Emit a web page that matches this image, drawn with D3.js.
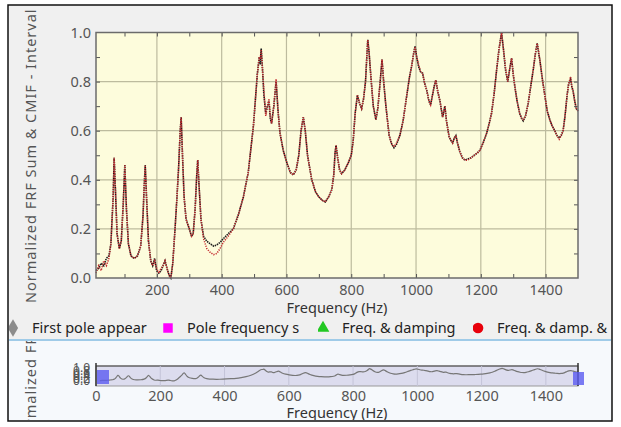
<!DOCTYPE html>
<html>
<head>
<meta charset="utf-8">
<script src="https://cdn.jsdelivr.net/npm/d3@7"></script>
<style>
  body { margin: 0; background: #fff; }
  svg { display: block; font-family: "Noto Sans", sans-serif; }
</style>
</head>
<body>
<script>
// frequency points (Hz)
let freq = [12,20,28,36,44,52,58,62,65,68,72,77,84,90,96,101,106,112,120,130,140,150,157,161,164,168,174,181,187,193,199,206,213,219,225,231,238,243,249,256,262,267,272,275,279,284,290,300,307,312,318,323,326,330,336,344,354,364,375,385,395,405,420,436,452,467,482,498,510,516,519,522,526,530,536,541,546,550,554,561,568,574,580,590,601,612,621,630,638,645,652,658,665,678,690,700,712,720,730,740,746,750,753,758,764,770,780,791,800,806,812,819,826,832,838,844,848,851,855,860,868,876,882,888,895,900,907,917,925,932,940,950,960,971,980,986,992,997,1002,1008,1014,1020,1027,1033,1040,1045,1050,1056,1061,1067,1074,1082,1086,1089,1094,1102,1108,1113,1118,1123,1128,1135,1143,1151,1160,1170,1180,1190,1197,1207,1218,1226,1233,1241,1249,1256,1264,1270,1276,1283,1289,1295,1300,1305,1312,1320,1326,1331,1338,1346,1354,1362,1368,1374,1378,1382,1390,1398,1405,1413,1420,1428,1435,1442,1448,1454,1460,1466,1471,1477,1481,1485,1490,1495,1500]

// normalized FRF sum (black)
let frfSum = [0.03,0.04,0.06,0.05,0.08,0.09,0.14,0.25,0.33,0.49,0.36,0.18,0.12,0.15,0.30,0.46,0.28,0.14,0.09,0.08,0.09,0.13,0.25,0.38,0.46,0.33,0.15,0.07,0.05,0.08,0.03,0.02,0.03,0.05,0.07,0.04,0.01,0.0,0.06,0.20,0.33,0.45,0.60,0.655,0.50,0.33,0.24,0.20,0.17,0.18,0.28,0.42,0.48,0.38,0.24,0.17,0.15,0.14,0.13,0.135,0.145,0.16,0.18,0.20,0.26,0.33,0.43,0.62,0.83,0.90,0.87,0.935,0.85,0.75,0.67,0.70,0.72,0.65,0.63,0.70,0.80,0.68,0.59,0.52,0.47,0.43,0.42,0.44,0.50,0.60,0.655,0.60,0.50,0.40,0.35,0.33,0.315,0.31,0.33,0.36,0.42,0.51,0.54,0.49,0.44,0.425,0.44,0.47,0.50,0.56,0.67,0.745,0.71,0.69,0.73,0.80,0.90,0.97,0.92,0.83,0.70,0.645,0.69,0.78,0.89,0.80,0.70,0.58,0.545,0.53,0.545,0.58,0.64,0.74,0.82,0.86,0.91,0.945,0.90,0.86,0.84,0.835,0.79,0.765,0.72,0.705,0.74,0.78,0.806,0.76,0.72,0.655,0.68,0.70,0.64,0.576,0.56,0.55,0.57,0.58,0.55,0.515,0.49,0.48,0.485,0.49,0.50,0.51,0.52,0.55,0.59,0.63,0.67,0.75,0.85,0.93,1.0,0.93,0.85,0.80,0.85,0.895,0.83,0.78,0.72,0.67,0.65,0.64,0.66,0.71,0.78,0.85,0.91,0.956,0.92,0.89,0.81,0.74,0.68,0.645,0.62,0.60,0.58,0.57,0.58,0.60,0.66,0.74,0.79,0.81,0.78,0.76,0.72,0.69,0.68]

// CMIF (red)
let cmif = [0.02,0.05,0.03,0.07,0.05,0.08,0.14,0.25,0.33,0.49,0.36,0.18,0.12,0.15,0.30,0.46,0.28,0.14,0.09,0.08,0.09,0.13,0.25,0.38,0.46,0.33,0.15,0.07,0.05,0.07,0.04,0.02,0.04,0.05,0.07,0.04,0.01,0.0,0.06,0.20,0.33,0.45,0.60,0.655,0.50,0.33,0.24,0.20,0.17,0.18,0.28,0.42,0.48,0.38,0.24,0.16,0.12,0.105,0.095,0.10,0.12,0.145,0.17,0.20,0.26,0.33,0.43,0.62,0.83,0.90,0.89,0.93,0.85,0.77,0.66,0.70,0.73,0.66,0.63,0.70,0.81,0.68,0.59,0.52,0.47,0.43,0.42,0.44,0.50,0.60,0.655,0.60,0.50,0.40,0.35,0.33,0.315,0.31,0.33,0.36,0.42,0.51,0.54,0.49,0.44,0.425,0.44,0.47,0.50,0.56,0.67,0.745,0.71,0.69,0.73,0.80,0.90,0.97,0.92,0.83,0.70,0.645,0.69,0.78,0.89,0.80,0.70,0.58,0.545,0.535,0.55,0.58,0.64,0.74,0.82,0.86,0.91,0.94,0.90,0.87,0.84,0.835,0.79,0.765,0.72,0.705,0.74,0.78,0.806,0.76,0.72,0.655,0.68,0.70,0.64,0.576,0.56,0.55,0.57,0.58,0.55,0.515,0.49,0.48,0.48,0.49,0.50,0.51,0.52,0.55,0.59,0.63,0.67,0.75,0.85,0.93,1.0,0.93,0.86,0.80,0.85,0.895,0.83,0.78,0.72,0.67,0.65,0.645,0.66,0.71,0.78,0.85,0.91,0.956,0.93,0.89,0.81,0.74,0.68,0.645,0.62,0.60,0.58,0.565,0.58,0.60,0.66,0.74,0.79,0.82,0.78,0.76,0.72,0.69,0.68]

let xTicks = [200,400,600,800,1000,1200,1400]
let yTicks = [0.0,0.2,0.4,0.6,0.8,1.0]
let ovXTicks = [0,200,400,600,800,1000,1200,1400]
let ovYTicks = [0.0,0.2,0.4,0.6,0.8,1.0]
let legendItems = ["First pole appear", "Pole frequency s", "Freq. & damping", "Freq. & damp. & mode shape"]
let legendColors = ["#8c8c8c", "#ff00ff", "#22c822", "#e8000b"]
let legendShapes = [d3.symbolDiamond, d3.symbolSquare, d3.symbolTriangle, d3.symbolCircle]

let svg = d3.select("body").append("svg")
  .attr("width", 621).attr("height", 427)

// outer frame
svg.append("rect").attr("x", 8).attr("y", 5).attr("width", 604).attr("height", 416)
  .attr("fill", "#f0f0f0").attr("stroke", "#111").attr("stroke-width", 1.5)

let defs = svg.append("defs")
defs.append("clipPath").attr("id", "frameClip").append("rect")
  .attr("x", 9).attr("y", 6).attr("width", 602).attr("height", 414)
defs.append("clipPath").attr("id", "panelClip").append("rect")
  .attr("x", 9).attr("y", 341).attr("width", 602).attr("height", 79)

// scales of the main plot
let x = d3.scaleLinear().domain([12, 1500]).range([96, 578])
let y = d3.scaleLinear().domain([0, 1]).range([278, 32.5])

let main = svg.append("g").attr("clip-path", "url(#frameClip)")

main.append("rect").attr("x", 96).attr("y", 32.5).attr("width", 482).attr("height", 245.5)
  .attr("fill", "#fdfcdc")

// grid
main.append("g").selectAll("line").data(xTicks).enter().append("line")
  .attr("x1", d => x(d)).attr("x2", d => x(d)).attr("y1", 32.5).attr("y2", 278)
  .attr("stroke", "#bdbb9e").attr("stroke-width", 1.2)
main.append("g").selectAll("line").data(yTicks.slice(1, -1)).enter().append("line")
  .attr("x1", 96).attr("x2", 578).attr("y1", d => y(d)).attr("y2", d => y(d))
  .attr("stroke", "#bdbb9e").attr("stroke-width", 1.2)

// curves
let line = d3.line().x((d, i) => x(freq[i])).y(d => y(d))
main.append("path").datum(frfSum).attr("d", line)
  .attr("fill", "none").attr("stroke", "#1c1c1c").attr("stroke-width", 1.6)
  .attr("stroke-dasharray", "1.5 0.8")
main.append("path").datum(cmif).attr("d", line)
  .attr("fill", "none").attr("stroke", "#c3262b").attr("stroke-width", 1.5)
  .attr("stroke-dasharray", "1.2 1.2")

// minor tick marks inside the frame
let minorX = d3.range(100, 1500, 100)
let minorY = d3.range(0.1, 1.0, 0.1)
main.append("g").attr("transform", "translate(0,278)")
  .call(d3.axisBottom(x).tickValues(minorX).tickSize(-4).tickFormat(""))
main.append("g").attr("transform", "translate(0,32.5)")
  .call(d3.axisTop(x).tickValues(minorX).tickSize(-4).tickFormat(""))
main.append("g").attr("transform", "translate(96,0)")
  .call(d3.axisLeft(y).tickValues(minorY).tickSize(-4).tickFormat(""))
main.append("g").attr("transform", "translate(578,0)")
  .call(d3.axisRight(y).tickValues(minorY).tickSize(-4).tickFormat(""))
main.selectAll(".domain").remove()
main.selectAll(".tick line").attr("stroke", "#555")

main.append("rect").attr("x", 96).attr("y", 32.5).attr("width", 482).attr("height", 245.5)
  .attr("fill", "none").attr("stroke", "#6b6b6b").attr("stroke-width", 1.5)

// tick labels
let xAxis = main.append("g").attr("transform", "translate(0,278)")
  .call(d3.axisBottom(x).tickValues(xTicks).tickSize(0).tickPadding(7).tickFormat(d3.format("d")))
let yAxis = main.append("g").attr("transform", "translate(96,0)")
  .call(d3.axisLeft(y).tickValues(yTicks).tickSize(0).tickPadding(5).tickFormat(d3.format(".1f")))
xAxis.select(".domain").remove()
yAxis.select(".domain").remove()
main.selectAll("text").attr("font-size", 14.5).attr("fill", "#555").attr("font-family", "Noto Sans")

main.append("text").attr("x", 337).attr("y", 313).attr("text-anchor", "middle")
  .attr("font-size", 14.5).attr("fill", "#333").text("Frequency (Hz)")
main.append("text").attr("transform", "translate(36,303) rotate(-90)")
  .attr("font-size", 14.5).attr("fill", "#555").attr("letter-spacing", 1)
  .text("Normalized FRF Sum & CMIF - Interval")

// legend row, each item cut to its slot
let slotW = 155
legendItems.forEach((name, i) => {
  let x0 = 8 + i * slotW
  defs.append("clipPath").attr("id", "leg" + i).append("rect")
    .attr("x", x0).attr("y", 318).attr("width", slotW - 4).attr("height", 20)
  let g = main.append("g").attr("clip-path", "url(#leg" + i + ")")
  g.append("path").attr("d", d3.symbol().type(legendShapes[i]).size(i == 2 ? 70 : 90)())
    .attr("transform", "translate(" + (x0 + 5) + ",328)").attr("fill", legendColors[i])
  g.append("text").attr("x", x0 + 24).attr("y", 333).attr("font-size", 14.5)
    .attr("fill", "#222").text(name)
})

// overview panel
let ov = svg.append("g").attr("clip-path", "url(#frameClip)")
ov.append("rect").attr("x", 4).attr("y", 340).attr("width", 612).attr("height", 82)
  .attr("fill", "#f6f9fc").attr("stroke", "#9fcbe8").attr("stroke-width", 2)

let ox = d3.scaleLinear().domain([0, 1500]).range([96, 578])
let oy = d3.scaleLinear().domain([0, 1]).range([381, 368])

ov.append("rect").attr("x", 96).attr("y", 366).attr("width", 482).attr("height", 20)
  .attr("fill", "#dcdcee").attr("stroke", "#999").attr("stroke-width", 1)
ov.append("line").attr("x1", 96).attr("x2", 578).attr("y1", 366).attr("y2", 366)
  .attr("stroke", "#444").attr("stroke-width", 1.2)
ov.append("g").selectAll("line").data(xTicks).enter().append("line")
  .attr("x1", d => ox(d)).attr("x2", d => ox(d)).attr("y1", 366).attr("y2", 386)
  .attr("stroke", "#c4c4d8")
let oline = d3.line().x((d, i) => ox(freq[i])).y(d => oy(d)).curve(d3.curveBasis)
ov.append("path").datum(frfSum).attr("d", oline)
  .attr("fill", "none").attr("stroke", "#777").attr("stroke-width", 1.2)
ov.append("line").attr("x1", 96).attr("x2", 96).attr("y1", 363).attr("y2", 386)
  .attr("stroke", "#333").attr("stroke-width", 1.5)
ov.append("line").attr("x1", 578).attr("x2", 578).attr("y1", 363).attr("y2", 386)
  .attr("stroke", "#333").attr("stroke-width", 1.5)

// range handles
ov.append("rect").attr("x", 97).attr("y", 370).attr("width", 12).attr("height", 14)
  .attr("fill", "#5b5bf0").attr("opacity", 0.8)
ov.append("rect").attr("x", 573).attr("y", 372).attr("width", 11).attr("height", 13)
  .attr("fill", "#5b5bf0").attr("opacity", 0.8)

let ovx = ov.append("g").attr("transform", "translate(0,386)")
  .call(d3.axisBottom(ox).tickValues(ovXTicks).tickSize(0).tickPadding(5).tickFormat(d3.format("d")))
let ovy = ov.append("g").attr("transform", "translate(96,0)")
  .call(d3.axisLeft(oy).tickValues(ovYTicks).tickSize(0).tickPadding(6).tickFormat(d3.format(".1f")))
ovx.select(".domain").remove()
ovy.select(".domain").remove()
ovx.selectAll("text").attr("font-size", 14.5).attr("fill", "#555").attr("font-family", "Noto Sans")
ovy.selectAll("text").attr("font-size", 12).attr("fill", "#555").attr("font-family", "Noto Sans")

ov.append("text").attr("x", 337).attr("y", 418).attr("text-anchor", "middle")
  .attr("font-size", 14.5).attr("fill", "#333").text("Frequency (Hz)")
ov.append("g").attr("clip-path", "url(#panelClip)")
  .append("text").attr("transform", "translate(36,447) rotate(-90)")
  .attr("font-size", 14.5).attr("fill", "#555").attr("letter-spacing", 1)
  .text("Normalized FRF")
</script>
</body>
</html>
